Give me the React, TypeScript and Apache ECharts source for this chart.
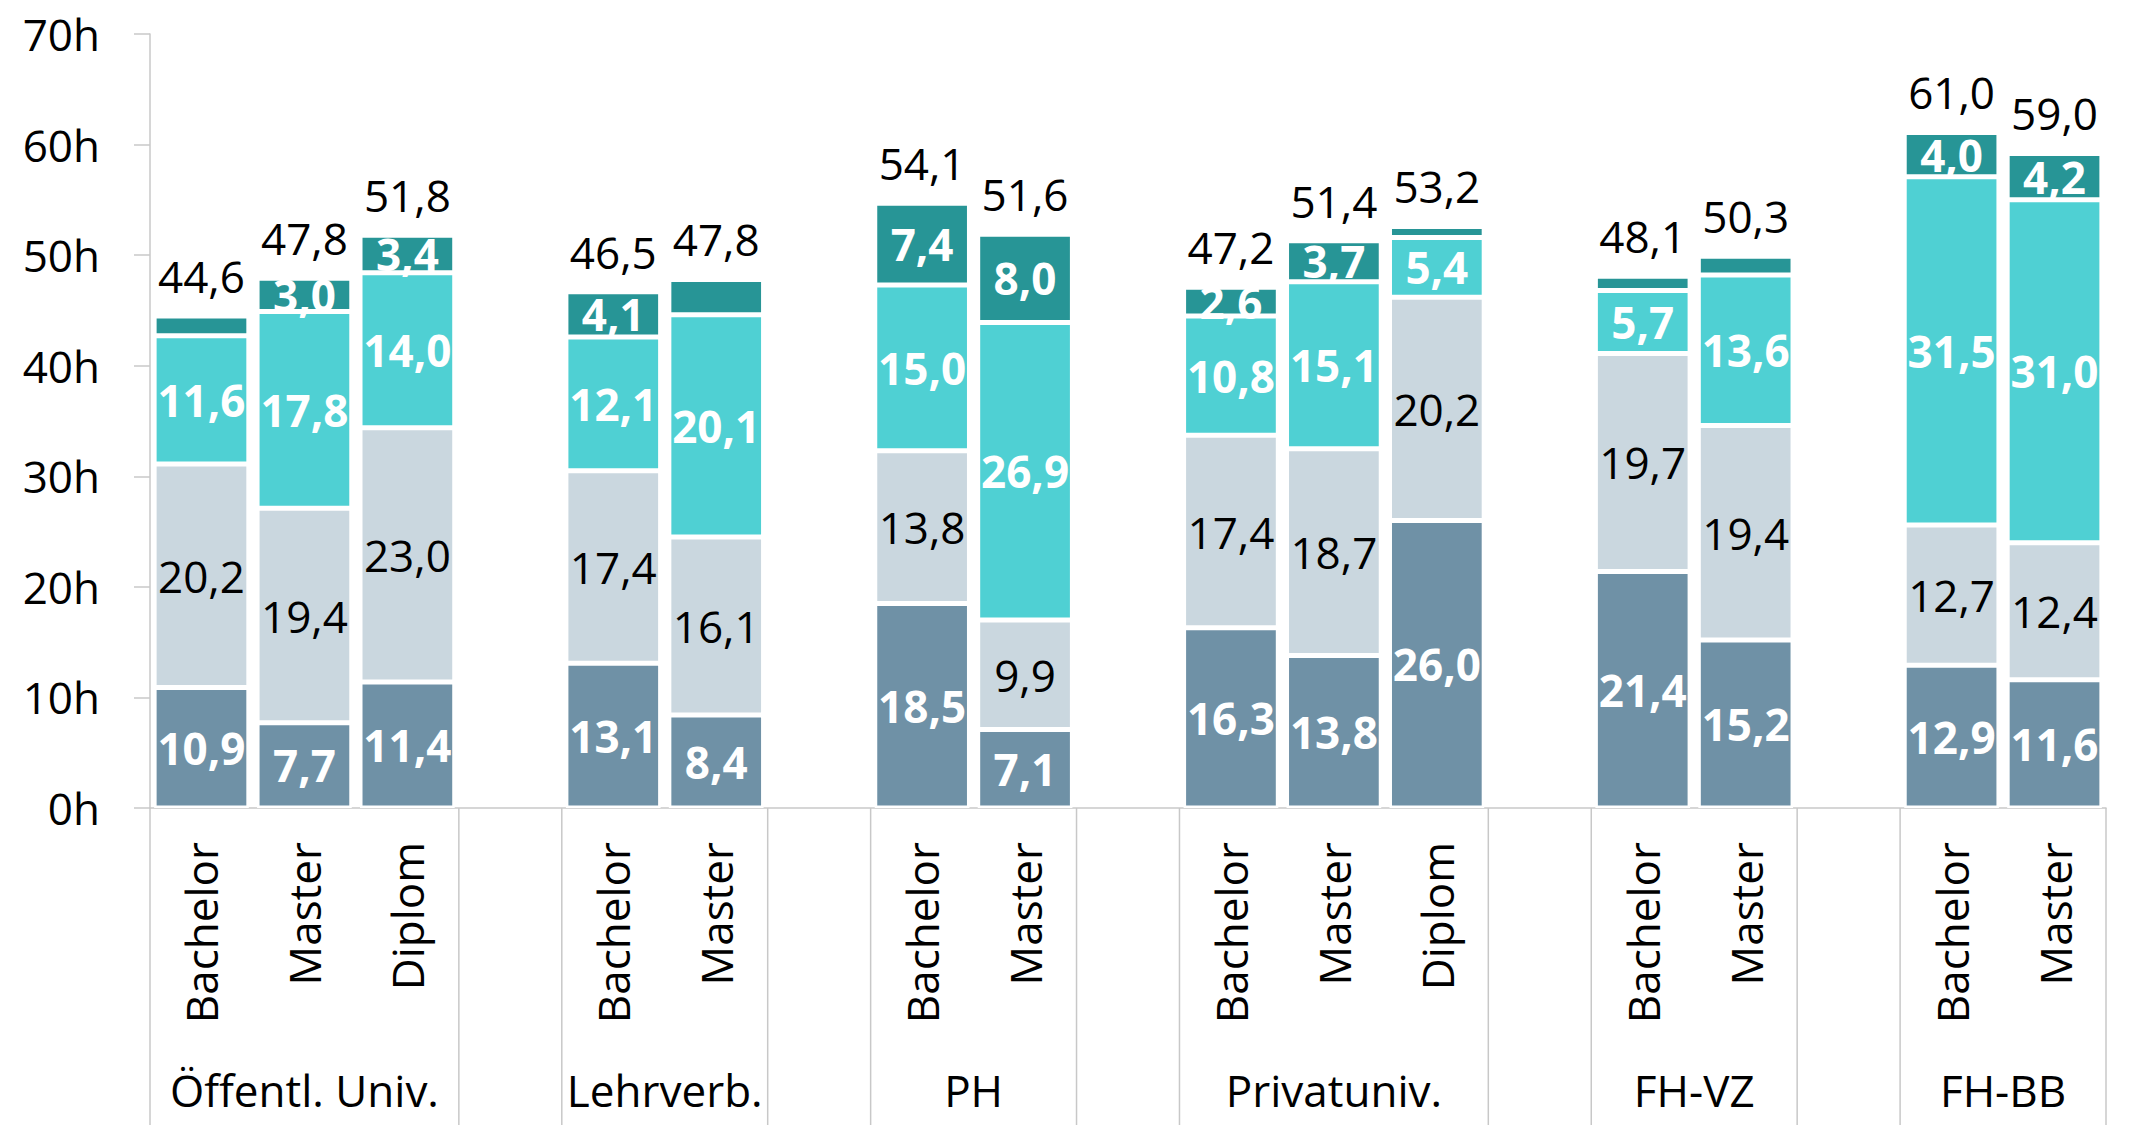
import React, { useEffect, useRef } from "react";
import * as echarts from "echarts";

const groupNames = ["Öffentl. Univ.", "Lehrverb.", "PH", "Privatuniv.", "FH-VZ", "FH-BB"];
const groupDegrees = [
  ["Bachelor", "Master", "Diplom"],
  ["Bachelor", "Master"],
  ["Bachelor", "Master"],
  ["Bachelor", "Master", "Diplom"],
  ["Bachelor", "Master"],
  ["Bachelor", "Master"],
];

// one value per bar, in the order of the bars
const seg1 = [10.9, 7.7, 11.4, 13.1, 8.4, 18.5, 7.1, 16.3, 13.8, 26.0, 21.4, 15.2, 12.9, 11.6];
const seg2 = [20.2, 19.4, 23.0, 17.4, 16.1, 13.8, 9.9, 17.4, 18.7, 20.2, 19.7, 19.4, 12.7, 12.4];
const seg3 = [11.6, 17.8, 14.0, 12.1, 20.1, 15.0, 26.9, 10.8, 15.1, 5.4, 5.7, 13.6, 31.5, 31.0];
const seg4 = [1.8, 3.0, 3.4, 4.1, 3.2, 7.4, 8.0, 2.6, 3.7, 1.0, 1.3, 1.7, 4.0, 4.2];
const seg4Labeled = [false, true, true, true, false, true, true, true, true, false, false, false, true, true];
const totals = [44.6, 47.8, 51.8, 46.5, 47.8, 54.1, 51.6, 47.2, 51.4, 53.2, 48.1, 50.3, 61.0, 59.0];
const yTicks = [0, 10, 20, 30, 40, 50, 60, 70];

const COLORS = ["#6F91A6", "#CAD7DF", "#4FD0D3", "#279596"];
const FONT = "'Open Sans', 'Noto Sans', sans-serif";
const FS = 44;

const fmt = (v: number) => v.toFixed(1).replace(".", ",");

export default function App() {
  const ref = useRef<HTMLDivElement>(null);
  useEffect(() => {
    if (!ref.current) return;
    const chart = echarts.init(ref.current, undefined, { renderer: "svg" });

    // build slots: groups separated by an empty slot
    const categories: string[] = [];
    const slotBar: (number | null)[] = [];
    const groupSlots: [number, number][] = [];
    let bar = 0;
    groupDegrees.forEach((degs, gi) => {
      if (gi > 0) {
        categories.push("");
        slotBar.push(null);
      }
      const start = categories.length;
      degs.forEach((d) => {
        categories.push(d);
        slotBar.push(bar++);
      });
      groupSlots.push([start, categories.length - 1]);
    });

    const mk = (arr: number[], labeled?: boolean[]) =>
      slotBar.map((b) => {
        if (b === null) return null;
        if (labeled && !labeled[b]) return { value: arr[b], label: { show: false } };
        return arr[b];
      });

    const whiteLabel = {
      show: true,
      position: "inside",
      color: "#fff",
      fontWeight: "bold",
      fontSize: FS,
      fontFamily: FONT,
      formatter: (p: any) => fmt(p.value),
    };
    const base = {
      type: "bar",
      stack: "s",
      barCategoryGap: "8%",
      itemStyle: { borderColor: "#fff", borderWidth: 2.5 },
    };

    const series: any[] = [
      { ...base, name: "s1", data: mk(seg1), itemStyle: { ...base.itemStyle, color: COLORS[0] }, label: whiteLabel },
      {
        ...base,
        name: "s2",
        data: mk(seg2),
        itemStyle: { ...base.itemStyle, color: COLORS[1] },
        label: { ...whiteLabel, color: "#000", fontWeight: "normal" },
      },
      { ...base, name: "s3", data: mk(seg3), itemStyle: { ...base.itemStyle, color: COLORS[2] }, label: whiteLabel },
      { ...base, name: "s4", data: mk(seg4, seg4Labeled), itemStyle: { ...base.itemStyle, color: COLORS[3] }, label: whiteLabel },
      {
        type: "bar",
        stack: "s",
        name: "total",
        data: slotBar.map((b) => (b === null ? null : 0)),
        itemStyle: { color: "transparent", borderWidth: 0 },
        label: {
          show: true,
          position: "top",
          distance: 18,
          color: "#000",
          fontSize: FS,
          fontFamily: FONT,
          formatter: (p: any) => {
            const b = slotBar[p.dataIndex];
            return b === null ? "" : fmt(totals[b]);
          },
        },
      },
    ];

    chart.setOption({
      animation: false,
      grid: { left: 150, right: 35, top: 34, bottom: 330, containLabel: false },
      xAxis: {
        type: "category",
        data: categories,
        axisLine: { lineStyle: { color: "#C8C8C8", width: 1.5 } },
        axisTick: { show: false },
        axisLabel: {
          interval: 0,
          rotate: 90,
          margin: 34,
          fontSize: FS,
          fontFamily: FONT,
          color: "#000",
        },
      },
      yAxis: {
        type: "value",
        min: yTicks[0],
        max: yTicks[yTicks.length - 1],
        interval: 10,
        splitLine: { show: false },
        axisLine: { show: true, lineStyle: { color: "#C8C8C8", width: 1.5 } },
        axisTick: { show: true, length: 16, lineStyle: { color: "#C8C8C8", width: 1.5 } },
        axisLabel: { formatter: "{value}h", fontSize: FS, fontFamily: FONT, color: "#000", margin: 50 },
      },
      series,
    });

    const cx = (i: number) => chart.convertToPixel({ xAxisIndex: 0 }, i) as number;
    const band = cx(1) - cx(0);
    const y0 = chart.convertToPixel({ yAxisIndex: 0 }, 0) as number;
    const yEnd = 1125;
    const graphics: any[] = [];
    groupSlots.forEach(([s, e], gi) => {
      const l = cx(s) - band / 2;
      const r = cx(e) + band / 2;
      [l, r].forEach((x) =>
        graphics.push({
          type: "line",
          shape: { x1: x, y1: y0, x2: x, y2: yEnd },
          style: { stroke: "#C8C8C8", lineWidth: 1.5 },
          silent: true,
        })
      );
      graphics.push({
        type: "text",
        x: (l + r) / 2,
        y: 1090,
        style: {
          text: groupNames[gi],
          fontSize: FS,
          fontFamily: FONT,
          fill: "#000",
          textAlign: "center",
          textVerticalAlign: "middle",
        },
        silent: true,
      });
    });
    chart.setOption({ graphic: graphics });

    return () => chart.dispose();
  }, []);

  return (
    <div
      ref={ref}
      style={{ position: "fixed", left: 0, top: 0, width: 2141, height: 1138, background: "#fff" }}
    />
  );
}
